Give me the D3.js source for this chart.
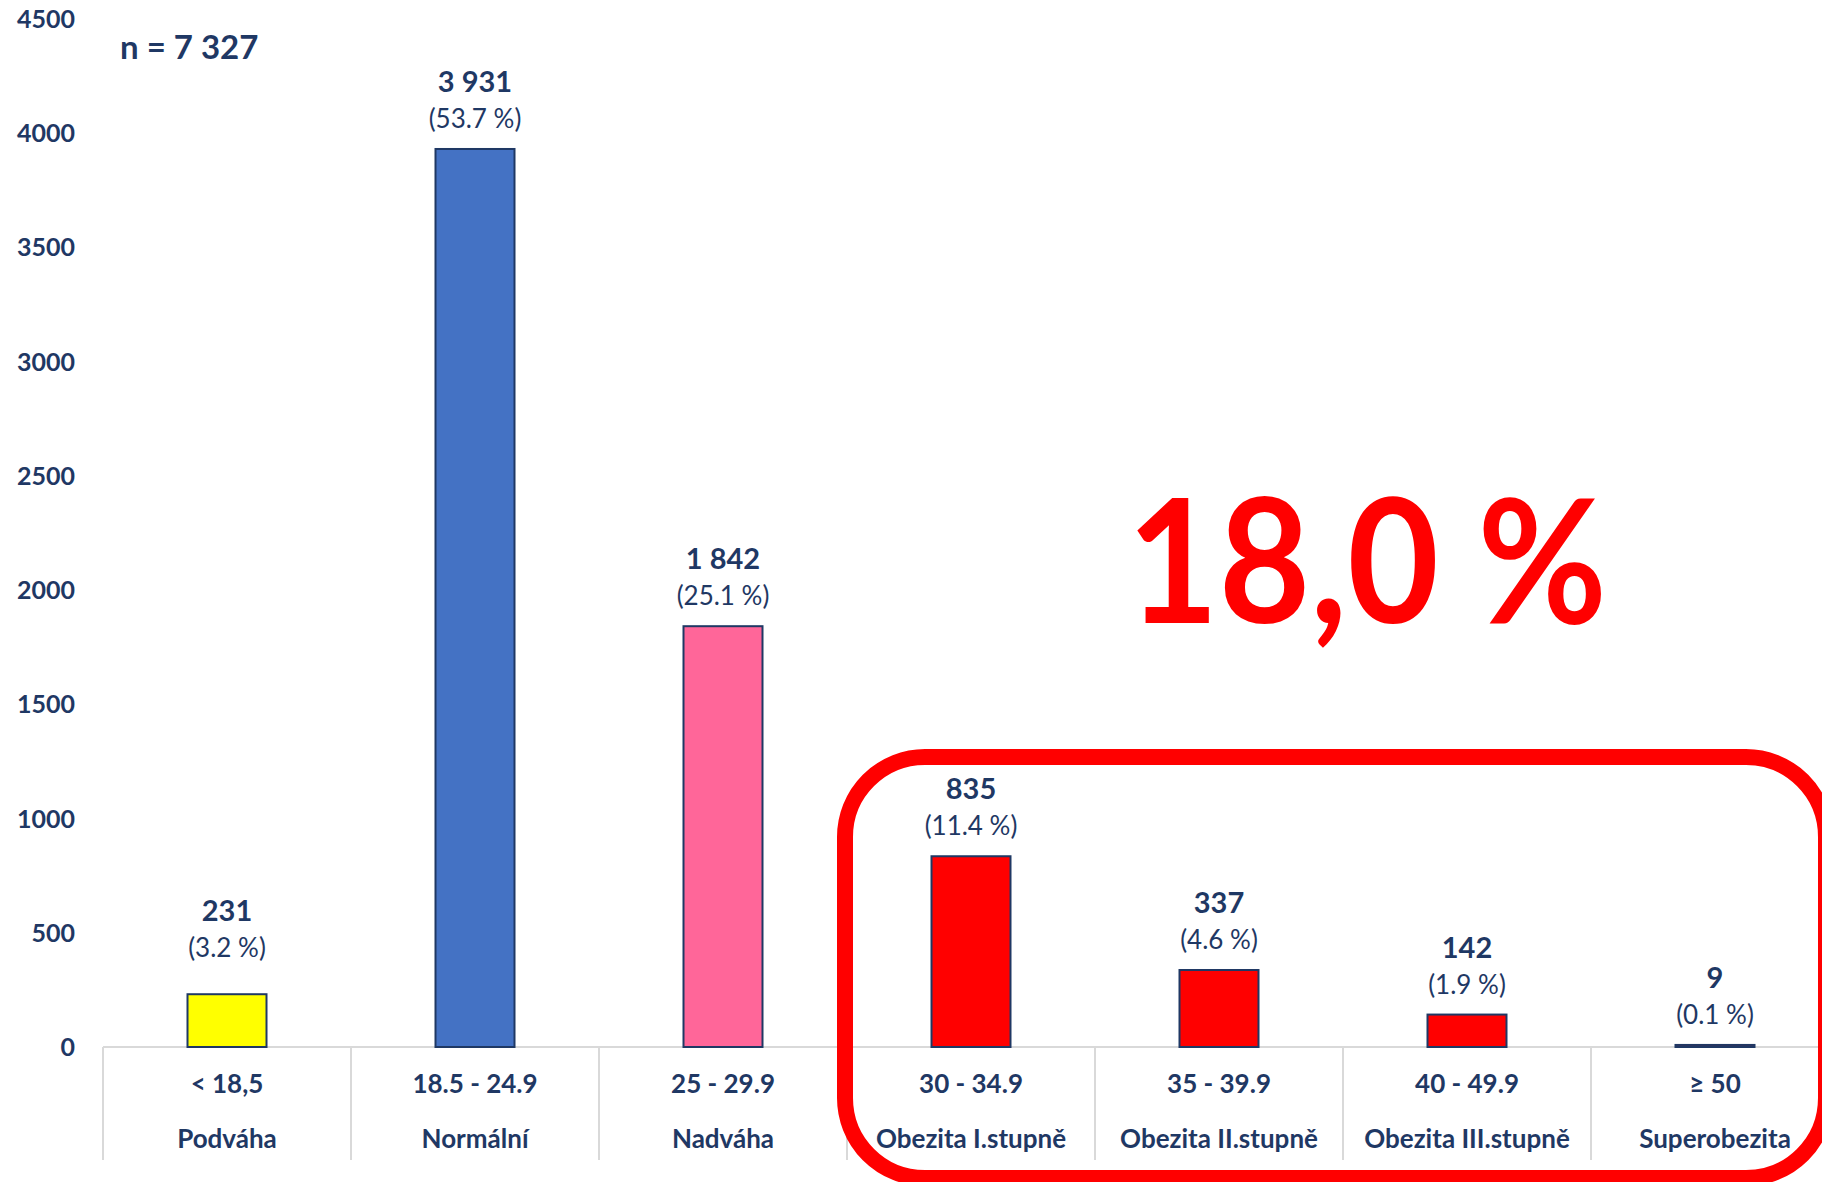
<!DOCTYPE html>
<html>
<head>
<meta charset="utf-8">
<script src="https://cdn.jsdelivr.net/npm/d3@7"></script>
<style>
  body { margin: 0; background: #fff; }
  svg { display: block; font-family: Lato, "Open Sans", sans-serif; }
</style>
</head>
<body>
<svg width="1822" height="1182"></svg>
<script>
// BMI categories
var ranges = ["< 18,5", "18.5 - 24.9", "25 - 29.9", "30 - 34.9", "35 - 39.9", "40 - 49.9", "\u2265 50"];
var names = ["Podváha", "Normální", "Nadváha", "Obezita I.stupně", "Obezita II.stupně", "Obezita III.stupně", "Superobezita"];
var counts = [231, 3931, 1842, 835, 337, 142, 9];
var percents = ["3.2", "53.7", "25.1", "11.4", "4.6", "1.9", "0.1"];
var colors = ["#ffff00", "#4472c4", "#ff6699", "#ff0000", "#ff0000", "#ff0000", "#ff0000"];
var yTicks = [0, 500, 1000, 1500, 2000, 2500, 3000, 3500, 4000, 4500];
var total = "n = 7 327";
var obesityShare = "18,0 %";

var navy = "#1f3864";

var svg = d3.select("svg"),
    width = +svg.attr("width"),
    height = +svg.attr("height");

var x = d3.scaleBand()
    .domain(ranges)
    .range([103, 103 + 248 * ranges.length])
    .padding(0);

var y = d3.scaleLinear()
    .domain([0, 4500])
    .range([1047, 19]);

var barW = 79;

// y tick labels (no axis line in the original)
svg.append("g")
    .selectAll("text")
    .data(yTicks)
    .enter().append("text")
        .attr("x", 75)
        .attr("y", function(d) { return y(d); })
        .attr("dy", "0.36em")
        .attr("text-anchor", "end")
        .attr("fill", navy)
        .attr("font-weight", 700)
        .attr("font-size", 25)
        .text(function(d) { return d; });

// baseline + category dividers
svg.append("line")
    .attr("x1", x.range()[0]).attr("x2", x.range()[1])
    .attr("y1", y(0)).attr("y2", y(0))
    .attr("stroke", "#d9d9d9").attr("stroke-width", 2);

svg.append("g")
    .selectAll("line")
    .data(ranges)
    .enter().append("line")
        .attr("x1", function(d) { return x(d); })
        .attr("x2", function(d) { return x(d); })
        .attr("y1", y(0))
        .attr("y2", 1160)
        .attr("stroke", "#d9d9d9").attr("stroke-width", 2);

// bars
svg.append("g")
    .selectAll("rect")
    .data(counts)
    .enter().append("rect")
        .attr("x", function(d, i) { return x(ranges[i]) + x.bandwidth() / 2 - barW / 2; })
        .attr("y", function(d) { return y(d); })
        .attr("width", barW)
        .attr("height", function(d) { return y(0) - y(d); })
        .attr("fill", function(d, i) { return colors[i]; })
        .attr("stroke", navy)
        .attr("stroke-width", 2);

// value labels; the first one sits a little higher in the original
function lift(i) { return i === 0 ? 16 : 0; }

var labels = svg.append("g")
    .selectAll("g")
    .data(counts)
    .enter().append("g")
        .attr("transform", function(d, i) {
            return "translate(" + (x(ranges[i]) + x.bandwidth() / 2) + "," + (y(d) - lift(i)) + ")";
        });

labels.append("text")
    .attr("y", -57)
    .attr("text-anchor", "middle")
    .attr("fill", navy)
    .attr("font-weight", 700)
    .attr("font-size", 29)
    .text(function(d) { return d3.format(",")(d).replace(/,/g, " "); });

labels.append("text")
    .attr("y", -21)
    .attr("text-anchor", "middle")
    .attr("fill", navy)
    .attr("font-size", 26)
    .text(function(d, i) { return "(" + percents[i] + " %)"; });

// category labels
var cats = svg.append("g")
    .selectAll("g")
    .data(ranges)
    .enter().append("g")
        .attr("transform", function(d) { return "translate(" + (x(d) + x.bandwidth() / 2) + ",0)"; });

cats.append("text")
    .attr("y", 1093)
    .attr("text-anchor", "middle")
    .attr("fill", navy)
    .attr("font-weight", 700)
    .attr("font-size", 26)
    .text(function(d) { return d; });

cats.append("text")
    .attr("y", 1148)
    .attr("text-anchor", "middle")
    .attr("fill", navy)
    .attr("font-weight", 700)
    .attr("font-size", 26)
    .text(function(d, i) { return names[i]; });

// n =
svg.append("text")
    .attr("x", 120)
    .attr("y", 59)
    .attr("fill", navy)
    .attr("font-weight", 700)
    .attr("font-size", 33)
    .text(total);

// obesity highlight box
var boxX = x(ranges[3]) - 2;
svg.append("rect")
    .attr("x", boxX)
    .attr("y", 757)
    .attr("width", 1826 - boxX)
    .attr("height", 421)
    .attr("rx", 80)
    .attr("fill", "none")
    .attr("stroke", "#ff0000")
    .attr("stroke-width", 16);

svg.append("text")
    .attr("x", 1367)
    .attr("y", 623)
    .attr("text-anchor", "middle")
    .attr("fill", "#ff0000")
    .attr("font-weight", 700)
    .attr("font-size", 172)
    .attr("textLength", 480)
    .attr("lengthAdjust", "spacingAndGlyphs")
    .text(obesityShare);
</script>
</body>
</html>
